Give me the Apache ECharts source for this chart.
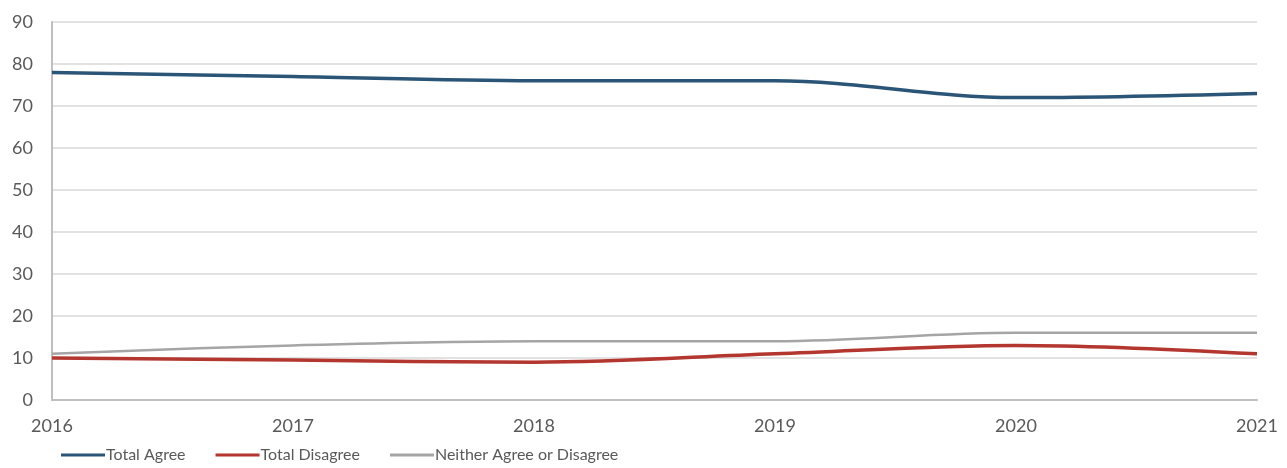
<!DOCTYPE html>
<html>
<head>
<meta charset="utf-8">
<script src="https://cdn.jsdelivr.net/npm/echarts@6/dist/echarts.min.js"></script>
<style>
  html, body { margin: 0; padding: 0; background: #fff; }
  #main { width: 1287px; height: 468px; }
</style>
</head>
<body>
<div id="main"></div>
<script>
// data
var years = ['2016', '2017', '2018', '2019', '2020', '2021'];
var totalAgree = [78, 77, 76, 76, 72, 73];
var totalDisagree = [10, 9.5, 9, 11, 13, 11];
var neither = [11, 13, 14, 14, 16, 16];

var myChart = echarts.init(document.getElementById('main'));

var font = 'Lato';

function line(name, data, color, width) {
    return {
        name: name,
        type: 'line',
        data: data,
        smooth: 0.35,
        symbol: 'none',
        lineStyle: { color: color, width: width },
        itemStyle: { color: color }
    };
}

var option = {
    animation: false,
    grid: { left: 52, right: 30, top: 22, bottom: 68 },
    legend: {
        left: 56,
        bottom: 0,
        icon: 'rect',
        itemWidth: 44,
        itemHeight: 3,
        itemGap: 30,
        textStyle: { color: '#595959', fontSize: 16, fontFamily: font, padding: [0, 0, 0, -4] }
    },
    xAxis: {
        type: 'category',
        data: years,
        boundaryGap: false,
        axisLine: { lineStyle: { color: '#bfbfbf', width: 2 } },
        axisTick: { show: false },
        axisLabel: { color: '#595959', fontSize: 18, fontFamily: font, margin: 17 }
    },
    yAxis: {
        type: 'value',
        min: 0,
        max: 90,
        interval: 10,
        axisLine: { show: true, lineStyle: { color: '#bfbfbf', width: 2 } },
        axisTick: { show: false },
        axisLabel: { color: '#595959', fontSize: 18, fontFamily: font, margin: 19 },
        splitLine: { lineStyle: { color: '#d9d9d9', width: 1.5 } }
    },
    series: [
        line('Total Agree', totalAgree, '#2b5576', 3.5),
        line('Total Disagree', totalDisagree, '#b3362f', 3.5),
        line('Neither Agree or Disagree', neither, '#a5a5a5', 2.5)
    ]
};

myChart.setOption(option);
</script>
</body>
</html>
